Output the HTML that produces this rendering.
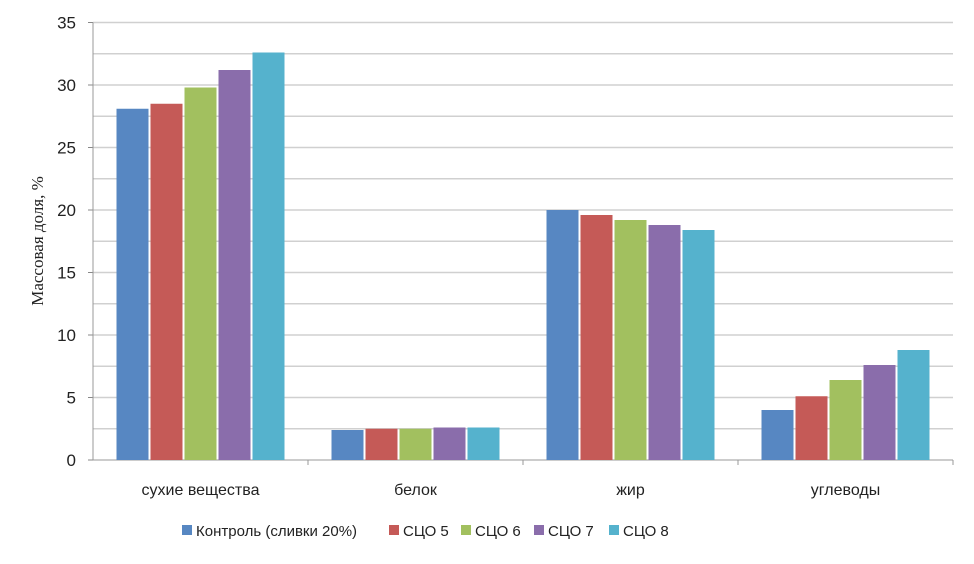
<!DOCTYPE html>
<html><head><meta charset="utf-8"><style>
body{margin:0;background:#fff;}
svg text{font-family:"Liberation Sans","DejaVu Sans",sans-serif;fill:#222;}
</style></head><body>
<svg width="974" height="559" id="c"></svg>
<script>
const categories=["сухие вещества","белок","жир","углеводы"];
const seriesNames=["Контроль (сливки 20%)","СЦО 5","СЦО 6","СЦО 7","СЦО 8"];
const colors=["#5787c2","#c55a57","#a2c05f","#8a6dab","#55b2cd"];
const s0=[28.1,2.4,20.0,4.0];
const s1=[28.5,2.5,19.6,5.1];
const s2=[29.8,2.5,19.2,6.4];
const s3=[31.2,2.6,18.8,7.6];
const s4=[32.6,2.6,18.4,8.8];
const series=[s0,s1,s2,s3,s4];
const yTicks=[0,5,10,15,20,25,30,35];
const NS="http://www.w3.org/2000/svg",svg=document.getElementById('c');
const x0=93,x1=953,y0=460,yTop=22.5,ymax=35;
const y=v=>y0-(v/ymax)*(y0-yTop);
const cw=(x1-x0)/categories.length;
function mk(t,a,p){const e=document.createElementNS(NS,t);for(const k in a)e.setAttribute(k,a[k]);(p||svg).appendChild(e);return e;}
for(let v=0;v<=ymax;v+=2.5){if(v===0)continue;const l=mk('line',{x1:x0,x2:x1,y1:y(v),y2:y(v),stroke:'#d0d0d0','stroke-width':1.5});

}
yTicks.forEach(v=>{const t=mk('text',{x:76,y:y(v)+6,'text-anchor':'end','font-size':17});t.textContent=v;


mk('line',{x1:88,x2:x0,y1:y(v),y2:y(v),stroke:'#888'});});
const ax=mk('line',{x1:x0,x2:x0,y1:yTop,y2:y0,stroke:'#999'});


const bx=mk('line',{x1:x0,x2:x1,y1:y0,y2:y0,stroke:'#999'});


const bw=32,gap=2,gw=5*bw+4*gap;
categories.forEach((c,i)=>{
 const cx=x0+cw*i+cw/2;
 mk('line',{x1:x0+cw*(i+1),x2:x0+cw*(i+1),y1:y0,y2:y0+5,stroke:'#999'});
 const t=mk('text',{x:cx,y:y0+35,'text-anchor':'middle','font-size':16});t.textContent=c;
 
 
 series.forEach((s,j)=>{const bxp=cx-gw/2+j*(bw+gap);
  const r=mk('rect',{x:bxp,y:y(s[i]),width:bw,height:y0-y(s[i]),fill:colors[j]});
  
  });
});
const yt=mk('text',{x:0,y:0,'text-anchor':'middle','font-size':17,transform:'translate(43,241) rotate(-90)'});
yt.style.fontFamily='"Liberation Serif",serif';yt.textContent='Массовая доля, %';


const lx=[182,389,461,534,609];
seriesNames.forEach((n,j)=>{const g=mk('g',{});
 
 
 mk('rect',{x:lx[j],y:525,width:10,height:10,fill:colors[j]},g);
 const t=mk('text',{x:lx[j]+14,y:536,'font-size':15},g);t.textContent=n;});
</script>
</body></html>
